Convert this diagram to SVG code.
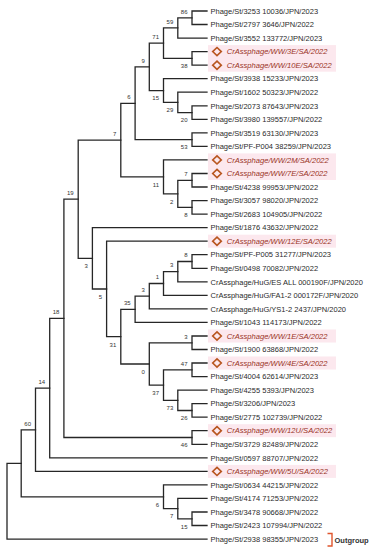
<svg xmlns="http://www.w3.org/2000/svg" xmlns:xlink="http://www.w3.org/1999/xlink" width="374" height="550" viewBox="0 0 374 550">
<style>
.br{fill:none;stroke:#262626;stroke-width:1.3;stroke-linecap:square}
.lf{font-family:"Liberation Sans",Arial,sans-serif;font-size:7.5px;fill:#2b2b2b}
.cr{font-family:"Liberation Sans",Arial,sans-serif;font-size:7.6px;font-style:italic;fill:#9a3326}
.bs{font-family:"Liberation Sans",Arial,sans-serif;font-size:6px;fill:#333;text-anchor:end}
.hl{fill:#fce8ee}
.dm{fill:none;stroke:#b8561f;stroke-width:1.6}
.og{fill:none;stroke:#e0552d;stroke-width:1.4}
</style>
<defs>
<path id="dia" d="M0,-4.1 L4.3,0 L0,4.1 L-4.3,0 Z"/>
</defs>
<rect width="374" height="550" fill="#fff"/>
<g id="highlights">
<rect class="hl" x="208" y="45.1" width="128" height="26.6"/>
<rect class="hl" x="208" y="153.4" width="128" height="26.6"/>
<rect class="hl" x="208" y="234.7" width="128" height="13"/>
<rect class="hl" x="208" y="329.5" width="128" height="13"/>
<rect class="hl" x="208" y="356.5" width="128" height="13"/>
<rect class="hl" x="208" y="424.2" width="128" height="13"/>
<rect class="hl" x="208" y="464.9" width="128" height="13"/>
</g>
<g id="connectors">
<path class="br" d="M207 11 H192 V24.5 H207"/>
<path class="br" d="M192 17.8 H177.8 V38.1 H207"/>
<path class="br" d="M207 51.6 H192 V65.2 H207"/>
<path class="br" d="M177.8 27.9 H163.5 V58.4 H192"/>
<path class="br" d="M207 105.8 H192 V119.3 H207"/>
<path class="br" d="M207 92.2 H177.8 V112.6 H192"/>
<path class="br" d="M207 78.7 H163.5 V102.4 H177.8"/>
<path class="br" d="M163.5 43.2 H149.3 V90.6 H163.5"/>
<path class="br" d="M207 132.9 H192 V146.4 H207"/>
<path class="br" d="M149.3 66.9 H135.1 V139.6 H192"/>
<path class="br" d="M207 173.5 H192 V187 H207"/>
<path class="br" d="M207 200.6 H192 V214.1 H207"/>
<path class="br" d="M192 180.3 H177.8 V207.3 H192"/>
<path class="br" d="M207 159.9 H163.5 V193.8 H177.8"/>
<path class="br" d="M135.1 103.3 H120.8 V176.9 H163.5"/>
<path class="br" d="M207 254.7 H192 V268.3 H207"/>
<path class="br" d="M192 261.5 H177.8 V281.8 H207"/>
<path class="br" d="M177.8 271.7 H163.5 V295.3 H207"/>
<path class="br" d="M163.5 283.5 H149.3 V308.9 H207"/>
<path class="br" d="M149.3 296.2 H135.1 V322.4 H207"/>
<path class="br" d="M207 336 H192 V349.5 H207"/>
<path class="br" d="M207 363 H192 V376.6 H207"/>
<path class="br" d="M207 403.7 H192 V417.2 H207"/>
<path class="br" d="M207 390.1 H177.8 V410.5 H192"/>
<path class="br" d="M192 369.8 H163.5 V400.3 H177.8"/>
<path class="br" d="M192 342.8 H149.3 V385.1 H163.5"/>
<path class="br" d="M135.1 309.3 H120.8 V364 H149.3"/>
<path class="br" d="M207 241.2 H106.6 V336.7 H120.8"/>
<path class="br" d="M207 227.6 H92.4 V289 H106.6"/>
<path class="br" d="M120.8 140.1 H78.2 V258.3 H92.4"/>
<path class="br" d="M207 430.7 H192 V444.3 H207"/>
<path class="br" d="M78.2 199.2 H63.9 V437.5 H192"/>
<path class="br" d="M63.9 318.4 H49.7 V457.8 H207"/>
<path class="br" d="M49.7 388.1 H35.5 V471.4 H207"/>
<path class="br" d="M207 512 H192 V525.5 H207"/>
<path class="br" d="M207 498.4 H177.8 V518.8 H192"/>
<path class="br" d="M207 484.9 H163.5 V508.6 H177.8"/>
<path class="br" d="M35.5 429.8 H21.2 V496.8 H163.5"/>
<path class="br" d="M21.2 463.3 H7 V539.1 H207"/>
</g>
<g id="support-values">
<g id="n-A"><text class="bs" x="187.5" y="13.5">86</text></g>
<g id="n-B"><text class="bs" x="173.3" y="23.6">59</text></g>
<g id="n-C"><text class="bs" x="159" y="38.9">71</text></g>
<g id="n-D"><text class="bs" x="187.5" y="68.2">38</text></g>
<g id="n-E"><text class="bs" x="144.8" y="62.6">9</text></g>
<g id="n-F"><text class="bs" x="159" y="100.4">15</text></g>
<g id="n-G"><text class="bs" x="173.3" y="112.2">29</text></g>
<g id="n-H"><text class="bs" x="187.5" y="122.4">20</text></g>
<g id="n-I"><text class="bs" x="130.6" y="99">6</text></g>
<g id="n-J"><text class="bs" x="187.5" y="149.4">53</text></g>
<g id="n-K"><text class="bs" x="116.3" y="135.8">7</text></g>
<g id="n-L"><text class="bs" x="159" y="186.7">11</text></g>
<g id="n-M"><text class="bs" x="173.3" y="203.6">2</text></g>
<g id="n-N"><text class="bs" x="187.5" y="176">7</text></g>
<g id="n-O"><text class="bs" x="187.5" y="217.1">8</text></g>
<g id="n-P"><text class="bs" x="73.7" y="194.9">19</text></g>
<g id="n-Q"><text class="bs" x="87.9" y="268.1">3</text></g>
<g id="n-Y"><text class="bs" x="187.5" y="257.2">8</text></g>
<g id="n-X"><text class="bs" x="173.3" y="267.4">3</text></g>
<g id="n-W"><text class="bs" x="159" y="279.2">1</text></g>
<g id="n-V"><text class="bs" x="144.8" y="291.9">3</text></g>
<g id="n-T"><text class="bs" x="130.6" y="305">35</text></g>
<g id="n-R"><text class="bs" x="102.1" y="298.8">5</text></g>
<g id="n-S"><text class="bs" x="116.3" y="346.5">31</text></g>
<g id="n-Z"><text class="bs" x="187.5" y="338.5">3</text></g>
<g id="n-U"><text class="bs" x="144.8" y="373.8">0</text></g>
<g id="n-AB"><text class="bs" x="187.5" y="365.5">47</text></g>
<g id="n-AA"><text class="bs" x="159" y="394.9">37</text></g>
<g id="n-AC"><text class="bs" x="173.3" y="410.1">73</text></g>
<g id="n-AD"><text class="bs" x="187.5" y="420.3">26</text></g>
<g id="n-AF"><text class="bs" x="187.5" y="447.3">46</text></g>
<g id="n-AE"><text class="bs" x="59.4" y="314.1">18</text></g>
<g id="n-AG"><text class="bs" x="45.2" y="383.8">14</text></g>
<g id="n-AH"><text class="bs" x="31" y="425.5">60</text></g>
<g id="n-AJ"><text class="bs" x="159" y="506.6">6</text></g>
<g id="n-AK"><text class="bs" x="173.3" y="518.4">7</text></g>
<g id="n-AL"><text class="bs" x="187.5" y="528.6">15</text></g>
</g>
<g id="leaves">
<g id="leaf-1"><text class="lf" x="210.5" y="13.7">Phage/St/3253 10036/JPN/2023</text></g>
<g id="leaf-2"><text class="lf" x="210.5" y="27.2">Phage/St/2797 3646/JPN/2022</text></g>
<g id="leaf-3"><text class="lf" x="210.5" y="40.8">Phage/St/3552 133772/JPN/2023</text></g>
<g id="leaf-4"><use href="#dia" class="dm" x="217" y="51.6"/><text class="cr" x="226.7" y="54.3">CrAssphage/WW/3E/SA/2022</text></g>
<g id="leaf-5"><use href="#dia" class="dm" x="217" y="65.2"/><text class="cr" x="226.7" y="67.9">CrAssphage/WW/10E/SA/2022</text></g>
<g id="leaf-6"><text class="lf" x="210.5" y="81.4">Phage/St/3938 15233/JPN/2023</text></g>
<g id="leaf-7"><text class="lf" x="210.5" y="94.9">Phage/St/1602 50323/JPN/2022</text></g>
<g id="leaf-8"><text class="lf" x="210.5" y="108.5">Phage/St/2073 87643/JPN/2023</text></g>
<g id="leaf-9"><text class="lf" x="210.5" y="122">Phage/St/3980 139557/JPN/2022</text></g>
<g id="leaf-10"><text class="lf" x="210.5" y="135.6">Phage/St/3519 63130/JPN/2023</text></g>
<g id="leaf-11"><text class="lf" x="210.5" y="149.1">Phage/St/PF-P004 38259/JPN/2023</text></g>
<g id="leaf-12"><use href="#dia" class="dm" x="217" y="159.9"/><text class="cr" x="226.7" y="162.6">CrAssphage/WW/2M/SA/2022</text></g>
<g id="leaf-13"><use href="#dia" class="dm" x="217" y="173.5"/><text class="cr" x="226.7" y="176.2">CrAssphage/WW/7E/SA/2022</text></g>
<g id="leaf-14"><text class="lf" x="210.5" y="189.7">Phage/St/4238 99953/JPN/2022</text></g>
<g id="leaf-15"><text class="lf" x="210.5" y="203.3">Phage/St/3057 98020/JPN/2022</text></g>
<g id="leaf-16"><text class="lf" x="210.5" y="216.8">Phage/St/2683 104905/JPN/2022</text></g>
<g id="leaf-17"><text class="lf" x="210.5" y="230.3">Phage/St/1876 43632/JPN/2022</text></g>
<g id="leaf-18"><use href="#dia" class="dm" x="217" y="241.2"/><text class="cr" x="226.7" y="243.9">CrAssphage/WW/12E/SA/2022</text></g>
<g id="leaf-19"><text class="lf" x="210.5" y="257.4">Phage/St/PF-P005 31277/JPN/2023</text></g>
<g id="leaf-20"><text class="lf" x="210.5" y="271">Phage/St/0498 70082/JPN/2022</text></g>
<g id="leaf-21"><text class="lf" x="210.5" y="284.5">CrAssphage/HuG/ES ALL 000190F/JPN/2020</text></g>
<g id="leaf-22"><text class="lf" x="210.5" y="298">CrAssphage/HuG/FA1-2 000172F/JPN/2020</text></g>
<g id="leaf-23"><text class="lf" x="210.5" y="311.6">CrAssphage/HuG/YS1-2 2437/JPN/2020</text></g>
<g id="leaf-24"><text class="lf" x="210.5" y="325.1">Phage/St/1043 114173/JPN/2022</text></g>
<g id="leaf-25"><use href="#dia" class="dm" x="217" y="336"/><text class="cr" x="226.7" y="338.7">CrAssphage/WW/1E/SA/2022</text></g>
<g id="leaf-26"><text class="lf" x="210.5" y="352.2">Phage/St/1900 63868/JPN/2022</text></g>
<g id="leaf-27"><use href="#dia" class="dm" x="217" y="363"/><text class="cr" x="226.7" y="365.7">CrAssphage/WW/4E/SA/2022</text></g>
<g id="leaf-28"><text class="lf" x="210.5" y="379.3">Phage/St/4004 62614/JPN/2023</text></g>
<g id="leaf-29"><text class="lf" x="210.5" y="392.8">Phage/St/4255 5393/JPN/2023</text></g>
<g id="leaf-30"><text class="lf" x="210.5" y="406.4">Phage/St/3206/JPN/2023</text></g>
<g id="leaf-31"><text class="lf" x="210.5" y="419.9">Phage/St/2775 102739/JPN/2022</text></g>
<g id="leaf-32"><use href="#dia" class="dm" x="217" y="430.7"/><text class="cr" x="226.7" y="433.4">CrAssphage/WW/12U/SA/2022</text></g>
<g id="leaf-33"><text class="lf" x="210.5" y="447">Phage/St/3729 82489/JPN/2022</text></g>
<g id="leaf-34"><text class="lf" x="210.5" y="460.5">Phage/St/0597 88707/JPN/2022</text></g>
<g id="leaf-35"><use href="#dia" class="dm" x="217" y="471.4"/><text class="cr" x="226.7" y="474.1">CrAssphage/WW/5U/SA/2022</text></g>
<g id="leaf-36"><text class="lf" x="210.5" y="487.6">Phage/St/0634 44215/JPN/2022</text></g>
<g id="leaf-37"><text class="lf" x="210.5" y="501.1">Phage/St/4174 71253/JPN/2022</text></g>
<g id="leaf-38"><text class="lf" x="210.5" y="514.7">Phage/St/3478 90668/JPN/2022</text></g>
<g id="leaf-39"><text class="lf" x="210.5" y="528.2">Phage/St/2423 107994/JPN/2022</text></g>
<g id="leaf-40"><text class="lf" x="210.5" y="541.8">Phage/St/2938 98355/JPN/2023</text></g>
</g>
<g id="outgroup">
<path class="og" d="M327.5 533.5 H332 V546 H327.5"/>
<text x="334.5" y="543.3" style="font-family:'Liberation Sans',Arial,sans-serif;font-size:7.5px;font-weight:bold;fill:#333">Outgroup</text>
</g>
</svg>
